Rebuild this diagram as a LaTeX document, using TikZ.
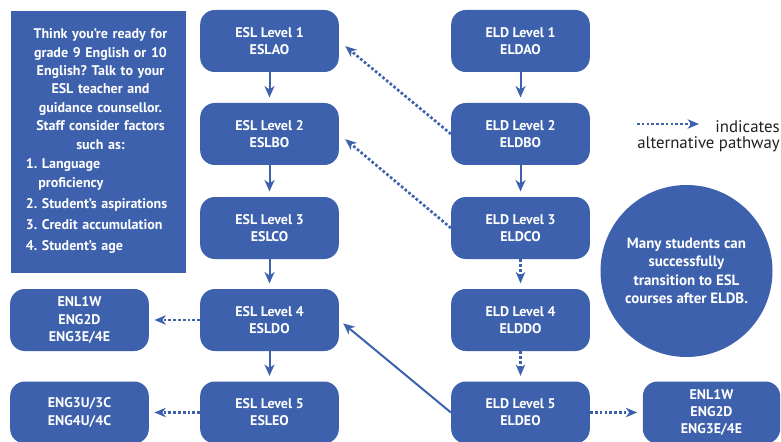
\documentclass[tikz,border=0pt]{standalone}
\usepackage{fontspec}
\setmainfont{PT Sans}
\usetikzlibrary{arrows.meta}
\definecolor{pathblue}{RGB}{61,97,173}
\definecolor{legendtext}{RGB}{35,31,32}
\frenchspacing

\begin{document}
\begin{tikzpicture}[x=0.75pt,y=0.75pt,yscale=-1,xscale=1,
  course/.style={fill=pathblue,rounded corners=11pt,minimum width=104pt,minimum height=46.5pt,inner sep=0pt,text=white,align=center,font=\bfseries\fontsize{10.5}{12.8}\selectfont},
  mainpath/.style={draw=pathblue,line width=1.5pt,-{Stealth[length=8.5pt,width=7.5pt,inset=2.5pt]}},
  altpath/.style={draw=pathblue,line width=2pt,dash pattern=on 2pt off 1.6pt,-{Stealth[length=8.5pt,width=7pt,inset=2.5pt]}}]
\useasboundingbox (0,0) rectangle (781,442);

% Info Box
\node [fill=pathblue,minimum width=131pt,minimum height=196.5pt,inner sep=0pt] (info) at (98.5,142) {};
\node [text width=112pt,align=center,text=white,font=\bfseries\fontsize{10.5}{13.8}\selectfont] (infotext) at (100.5,141) {%
Think you’re ready for\\ grade 9 English or 10\\ English? Talk to your\\ ESL teacher and\\ guidance counsellor.\\ Staff consider factors\\ such as:\par
\raggedright\vspace{1pt}
1. Language\\ \hspace*{0.9em}proficiency\par\vspace{2pt}
2. Student’s aspirations\par\vspace{2pt}
3. Credit accumulation\par\vspace{2pt}
4. Student’s age\par};

% ESL column
\node [course] (esla) at (269.5,41) {ESL Level 1\\ ESLAO};
\node [course] (eslb) at (269.5,134) {ESL Level 2\\ ESLBO};
\node [course] (eslc) at (269.5,228) {ESL Level 3\\ ESLCO};
\node [course] (esld) at (269.5,320) {ESL Level 4\\ ESLDO};
\node [course] (esle) at (269.5,412.5) {ESL Level 5\\ ESLEO};

% ELD column
\node [course] (elda) at (520.5,41) {ELD Level 1\\ ELDAO};
\node [course] (eldb) at (520.5,134) {ELD Level 2\\ ELDBO};
\node [course] (eldc) at (520.5,228) {ELD Level 3\\ ELDCO};
\node [course] (eldd) at (520.5,320) {ELD Level 4\\ ELDDO};
\node [course] (elde) at (520.5,412.5) {ELD Level 5\\ ELDEO};

% English credit boxes
\node [course] (engopen) at (79.5,320) {ENL1W\\ ENG2D\\ ENG3E/4E};
\node [course] (engacad) at (79.5,412.5) {ENG3U/3C\\ ENG4U/4C};
\node [course,minimum width=103pt] (engright) at (711.5,412.5) {ENL1W\\ ENG2D\\ ENG3E/4E};

% Circle
\node [circle,fill=pathblue,minimum size=129pt,inner sep=0pt,text=white,align=center,font=\bfseries\fontsize{11.2}{13.8}\selectfont] (note) at (686.5,271) {Many students can\\ successfully\\ transition to ESL\\ courses after ELDB.};

% Legend
\coordinate (legstart) at (637,124);
\coordinate (legend) at (699,124);
\draw [altpath] (legstart) -- (legend);
\node [anchor=east,align=right,inner sep=0pt,text=legendtext,font=\fontsize{12.6}{12}\selectfont] (legtext) at (780,136) {indicates\\ alternative pathway};

%Straight Lines
\draw [mainpath,shorten >=4pt] (esla) -- (eslb);
\draw [mainpath,shorten >=4pt] (eslb) -- (eslc);
\draw [mainpath,shorten >=4pt] (eslc) -- (esld);
\draw [mainpath,shorten >=4pt] (esld) -- (esle);
\draw [mainpath,shorten >=4pt] (elda) -- (eldb);
\draw [mainpath,shorten >=4pt] (eldb) -- (eldc);
\draw [mainpath,shorten >=4pt] (elde.west) -- (esld.east);

%Dotted Lines
\draw [altpath,shorten >=4pt] (eldc) -- (eldd);
\draw [altpath,shorten >=4pt] (eldd) -- (elde);
\draw [altpath,shorten >=6pt] (eldb.west) -- (esla.east);
\draw [altpath,shorten >=6pt] (eldc.west) -- (eslb.east);
\draw [altpath,shorten >=4pt] (esld) -- (engopen);
\draw [altpath,shorten >=4pt] (esle) -- (engacad);
\draw [altpath,shorten >=4pt] (elde) -- (engright);

\end{tikzpicture}
\end{document}
